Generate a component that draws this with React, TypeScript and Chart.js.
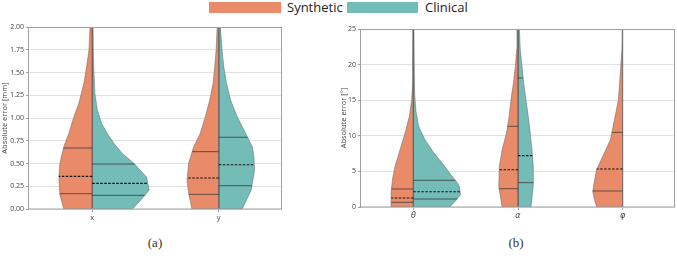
import React, { useEffect, useRef } from 'react';
import { Chart, registerables } from 'chart.js';

Chart.register(...registerables);

const SYN_COLOR = '#E98A69';
const CLIN_COLOR = '#73BCB7';
const OUTLINE = 'rgba(95,95,95,0.7)';
const QUART = 'rgba(55,55,55,0.85)';
const MEDIAN = '#111111';
const FRAME = '#a0a0a0';
const GRID = '#e2e2e2';
const TICK_TEXT = '#444444';
const SANS = '"Open Sans", "DejaVu Sans", sans-serif';

const legendLabels = ['Synthetic', 'Clinical'];
const positionLabels = ['x', 'y'];
const angleLabels = ['θ', 'α', 'φ'];

// Half-violin density profiles: error levels and half-widths (in category units)
const synXLevels = [0, 0.154, 0.355, 0.502, 0.685, 0.832, 1.015, 1.161, 1.381, 1.564, 1.747, 2.0, 2.3];
const synXWidths = [0.225, 0.256, 0.264, 0.256, 0.225, 0.185, 0.145, 0.106, 0.066, 0.045, 0.026, 0.018, 0];
const clinXLevels = [0, 0.099, 0.209, 0.35, 0.5, 0.61, 0.72, 0.83, 0.94, 1.09, 1.27, 1.6, 2.0, 2.3];
const clinXWidths = [0.317, 0.384, 0.45, 0.43, 0.331, 0.238, 0.172, 0.119, 0.074, 0.04, 0.021, 0.01, 0.005, 0];
const synYLevels = [0, 0.172, 0.319, 0.502, 0.685, 0.832, 1.015, 1.198, 1.381, 1.564, 1.747, 2.0, 2.3];
const synYWidths = [0.212, 0.238, 0.251, 0.238, 0.198, 0.146, 0.106, 0.071, 0.045, 0.032, 0.021, 0.013, 0];
const clinYLevels = [0, 0.209, 0.429, 0.575, 0.685, 0.832, 1.015, 1.198, 1.381, 1.564, 1.747, 2.0, 2.3];
const clinYWidths = [0.185, 0.257, 0.283, 0.278, 0.265, 0.212, 0.146, 0.093, 0.061, 0.04, 0.026, 0.013, 0];

const synThetaLevels = [0, 1.97, 3.84, 5.71, 8.05, 10.39, 12.73, 15.07, 17.4, 25];
const synThetaWidths = [0.206, 0.213, 0.2, 0.175, 0.127, 0.079, 0.038, 0.016, 0.006, 0.003];
const clinThetaLevels = [0, 1.03, 1.73, 2.9, 3.5, 4.5, 5.71, 7.58, 9.46, 11.33, 13.5, 16, 25];
const clinThetaWidths = [0.349, 0.413, 0.451, 0.44, 0.415, 0.36, 0.3, 0.197, 0.111, 0.05, 0.025, 0.012, 0.004];
const synAlphaLevels = [0, 2.9, 5.71, 8.05, 10.39, 12.73, 15.07, 17.42, 19.76, 22.1, 25];
const synAlphaWidths = [0.152, 0.184, 0.178, 0.152, 0.11, 0.085, 0.067, 0.044, 0.025, 0.013, 0.01];
const clinAlphaLevels = [0, 2.9, 5.71, 8.05, 10.39, 12.73, 15.07, 17.42, 19.76, 22.1, 25];
const clinAlphaWidths = [0.124, 0.146, 0.146, 0.133, 0.117, 0.098, 0.076, 0.054, 0.038, 0.022, 0.013];
const synPhiLevels = [0, 1.03, 2.2, 3.6, 5.24, 7.12, 9.46, 11.8, 15.07, 17.42, 19.76, 22.1, 25];
const synPhiWidths = [0.248, 0.27, 0.286, 0.27, 0.25, 0.19, 0.117, 0.085, 0.041, 0.029, 0.019, 0.007, 0.003];

// Quartiles [Q1, median, Q3]
const synPosQuartiles = [[0.168, 0.359, 0.67], [0.161, 0.341, 0.63]];
const clinPosQuartiles = [[0.15, 0.282, 0.494], [0.256, 0.487, 0.788]];
const synAngleQuartiles = [[0.66, 1.26, 2.53], [2.57, 5.24, 11.33], [2.25, 5.34, 10.49]];
const clinAngleQuartiles = [[1.12, 2.15, 3.75], [3.42, 7.21, 18.12], null];

type Profile = [number[], number[]] | null;

const synPosProfiles: Profile[] = [[synXLevels, synXWidths], [synYLevels, synYWidths]];
const clinPosProfiles: Profile[] = [[clinXLevels, clinXWidths], [clinYLevels, clinYWidths]];
const synAngleProfiles: Profile[] = [
  [synThetaLevels, synThetaWidths],
  [synAlphaLevels, synAlphaWidths],
  [synPhiLevels, synPhiWidths],
];
const clinAngleProfiles: Profile[] = [[clinThetaLevels, clinThetaWidths], [clinAlphaLevels, clinAlphaWidths], null];

function widthAt(levels: number[], widths: number[], v: number) {
  for (let i = 1; i < levels.length; i++) {
    if (v <= levels[i]) {
      const t = (v - levels[i - 1]) / (levels[i] - levels[i - 1]);
      return widths[i - 1] + t * (widths[i] - widths[i - 1]);
    }
  }
  return widths[widths.length - 1];
}

function halfViolin(center: number, profile: [number[], number[]], side: number, color: string) {
  const [levels, widths] = profile;
  const edge = levels.map((v, i) => ({ x: center + side * widths[i], y: v }));
  const top = levels[levels.length - 1];
  return {
    type: 'scatter',
    data: [{ x: center, y: levels[0] }, ...edge, { x: center, y: top }, { x: center, y: levels[0] }],
    showLine: true,
    fill: 'shape',
    backgroundColor: color,
    borderColor: OUTLINE,
    borderWidth: 0.7,
    pointRadius: 0,
    tension: 0,
    order: 2,
  };
}

function quartileLines(center: number, profile: [number[], number[]], side: number, q: number[]) {
  const [levels, widths] = profile;
  return q.map((v, k) => ({
    type: 'scatter',
    data: [
      { x: center, y: v },
      { x: center + side * widthAt(levels, widths, v), y: v },
    ],
    showLine: true,
    fill: false,
    borderColor: k === 1 ? MEDIAN : QUART,
    borderWidth: k === 1 ? 1.1 : 0.9,
    borderDash: k === 1 ? [2.5, 1.5] : [],
    pointRadius: 0,
    order: 1,
  }));
}

const framePlugin = {
  id: 'panelFrame',
  afterDraw(chart: any) {
    const { ctx, chartArea: a } = chart;
    ctx.save();
    ctx.strokeStyle = FRAME;
    ctx.lineWidth = 1;
    ctx.strokeRect(Math.round(a.left) - 0.5, Math.round(a.top) + 0.5, Math.round(a.width), Math.round(a.height) - 0.5);
    ctx.restore();
  },
};

type PanelSpec = {
  labels: string[];
  syn: Profile[];
  clin: Profile[];
  synQ: (number[] | null)[];
  clinQ: (number[] | null)[];
  yMax: number;
  yStep: number;
  yTitle: string;
  fmt: (v: number) => string;
  axisWidth: number;
  xAxisHeight: number;
  padTop: number;
  padRight: number;
  xFont: any;
};

function buildChart(canvas: HTMLCanvasElement, s: PanelSpec) {
  const datasets: any[] = [];
  s.labels.forEach((_, i) => {
    const sp = s.syn[i];
    const cp = s.clin[i];
    if (sp) {
      datasets.push(halfViolin(i, sp, -1, SYN_COLOR));
      if (s.synQ[i]) datasets.push(...quartileLines(i, sp, -1, s.synQ[i] as number[]));
    }
    if (cp) {
      datasets.push(halfViolin(i, cp, 1, CLIN_COLOR));
      if (s.clinQ[i]) datasets.push(...quartileLines(i, cp, 1, s.clinQ[i] as number[]));
    }
  });

  return new Chart(canvas, {
    type: 'scatter',
    data: { datasets },
    options: {
      responsive: false,
      animation: false,
      events: [],
      layout: { padding: { top: s.padTop, right: s.padRight, left: 0, bottom: 0 } },
      plugins: { legend: { display: false }, tooltip: { enabled: false } },
      scales: {
        x: {
          type: 'linear',
          min: -0.5,
          max: s.labels.length - 0.5,
          afterBuildTicks: (axis: any) => {
            axis.ticks = s.labels.map((_, i) => ({ value: i }));
          },
          afterFit: (axis: any) => {
            axis.height = s.xAxisHeight;
          },
          ticks: {
            callback: (v: any) => s.labels[Math.round(Number(v))] ?? '',
            font: s.xFont,
            color: TICK_TEXT,
            padding: 1,
            maxRotation: 0,
            autoSkip: false,
          },
          grid: { drawOnChartArea: false, tickLength: 3, color: FRAME },
          border: { display: false },
        },
        y: {
          type: 'linear',
          min: 0,
          max: s.yMax,
          afterFit: (axis: any) => {
            axis.width = s.axisWidth;
          },
          ticks: {
            stepSize: s.yStep,
            callback: (v: any) => s.fmt(Number(v)),
            font: { family: SANS, size: 7 },
            color: TICK_TEXT,
            padding: 2,
          },
          grid: { color: GRID, tickColor: FRAME, tickLength: 3 },
          border: { display: false },
          title: {
            display: true,
            text: s.yTitle,
            font: { family: SANS, size: 7.5 },
            color: TICK_TEXT,
            padding: { top: 0, bottom: 0 },
          },
        },
      },
    } as any,
    plugins: [framePlugin],
  } as any);
}

export default function App() {
  const leftRef = useRef<HTMLCanvasElement>(null);
  const rightRef = useRef<HTMLCanvasElement>(null);

  useEffect(() => {
    const left = buildChart(leftRef.current!, {
      labels: positionLabels,
      syn: synPosProfiles,
      clin: clinPosProfiles,
      synQ: synPosQuartiles,
      clinQ: clinPosQuartiles,
      yMax: 2,
      yStep: 0.25,
      yTitle: 'Absolute error [mm]',
      fmt: (v) => v.toFixed(2),
      axisWidth: 29,
      xAxisHeight: 16,
      padTop: 7,
      padRight: 8,
      xFont: { family: SANS, size: 7.5 },
    });
    const right = buildChart(rightRef.current!, {
      labels: angleLabels,
      syn: synAngleProfiles,
      clin: clinAngleProfiles,
      synQ: synAngleQuartiles,
      clinQ: clinAngleQuartiles,
      yMax: 25,
      yStep: 5,
      yTitle: 'Absolute error [°]',
      fmt: (v) => String(Math.round(v)),
      axisWidth: 22,
      xAxisHeight: 18,
      padTop: 9,
      padRight: 2,
      xFont: { family: '"DejaVu Sans", sans-serif', size: 8, style: 'italic' },
    });
    return () => {
      left.destroy();
      right.destroy();
    };
  }, []);

  const legendItem = (color: string, label: string, boxLeft: number, boxWidth: number, textLeft: number) => (
    <React.Fragment key={label}>
      <div style={{ position: 'absolute', left: boxLeft, top: 2, width: boxWidth, height: 11, background: color }} />
      <div
        style={{
          position: 'absolute',
          left: textLeft,
          top: -2,
          fontFamily: SANS,
          fontSize: 13,
          lineHeight: '18px',
          color: '#222',
          whiteSpace: 'nowrap',
        }}
      >
        {label}
      </div>
    </React.Fragment>
  );

  const caption = (text: string, center: number) => (
    <div
      style={{
        position: 'absolute',
        left: center - 20,
        width: 40,
        top: 235,
        textAlign: 'center',
        fontFamily: '"Liberation Serif", "DejaVu Serif", serif',
        fontSize: 13,
        lineHeight: '16px',
        color: '#333',
      }}
    >
      {text}
    </div>
  );

  return (
    <div style={{ position: 'fixed', left: 0, top: 0, width: 677, height: 260, background: '#fff', overflow: 'hidden' }}>
      {legendItem(SYN_COLOR, legendLabels[0], 209, 72, 287)}
      {legendItem(CLIN_COLOR, legendLabels[1], 347, 71, 425)}
      <canvas ref={leftRef} width={290} height={205} style={{ position: 'absolute', left: 0, top: 20, display: 'block' }} />
      <canvas ref={rightRef} width={338} height={205} style={{ position: 'absolute', left: 339, top: 20, display: 'block' }} />
      {caption('(a)', 155)}
      {caption('(b)', 516)}
    </div>
  );
}
